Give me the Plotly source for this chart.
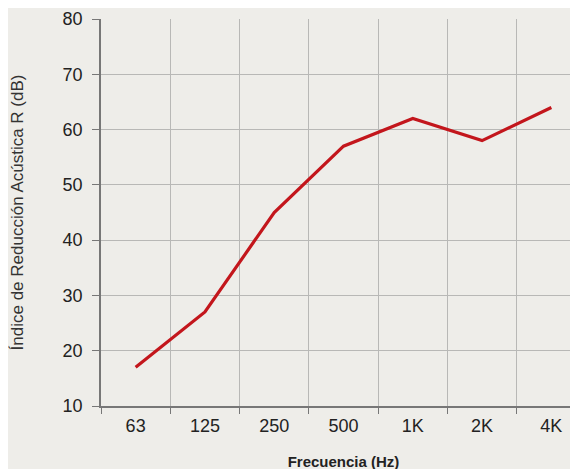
import plotly.graph_objects as go

FREQS = ["63", "125", "250", "500", "1K", "2K", "4K"]
R_DB = [17, 27, 45, 57, 62, 58, 64]
Y_TICKS = [10, 20, 30, 40, 50, 60, 70, 80]

fig = go.Figure()
fig.add_trace(go.Scatter(
    x=FREQS, y=R_DB, mode='lines',
    line=dict(color='#c3161c', width=3.2),
    showlegend=False,
))

# page body has an 8px default margin, so margins are trimmed by 8
font = "Liberation Sans, Arial, sans-serif"
fig.update_xaxes(
    type='category', range=[-0.5, 6.5], automargin=False,
    tickson='boundaries', ticks='outside', ticklen=6, tickcolor='#777',
    showgrid=True, gridcolor='#b8b8b6', gridwidth=1,
    showline=True, linecolor='#777', linewidth=1.5,
    tickfont=dict(size=18, color='#222', family=font), ticklabelstandoff=3,
    title=dict(text='<b>Frecuencia (Hz)</b>', font=dict(size=15, color='#222', family=font),
               standoff=21),
)
fig.update_yaxes(
    range=[10, 80], tickvals=Y_TICKS, automargin=False,
    ticks='outside', ticklen=7, tickcolor='#777',
    showgrid=True, gridcolor='#b8b8b6', gridwidth=1,
    showline=True, linecolor='#777', linewidth=1.5, zeroline=False,
    tickfont=dict(size=18, color='#222', family=font), ticklabelstandoff=6,
    title=dict(text='Índice de Reducción Acústica R (dB)',
               font=dict(size=17, color='#333', family=font), standoff=36),
)
fig.update_layout(
    width=578, height=469,
    margin=dict(l=93, r=0, t=11, b=71),
    paper_bgcolor='#eeede9', plot_bgcolor='#eeede9',
)
fig.write_html("out.html")
